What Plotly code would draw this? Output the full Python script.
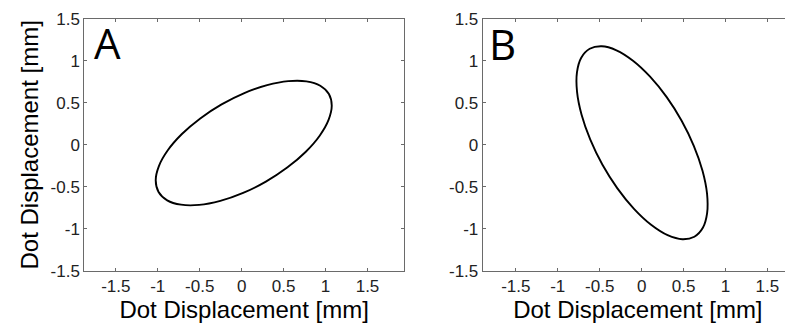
import plotly.graph_objects as go

# Ellipse A, mm
ax_x = [1.040, 0.937, 0.772, 0.556, 0.304, 0.032, -0.239, -0.493, -0.712, -0.880,
        -0.986, -1.024, -0.990, -0.887, -0.722, -0.506, -0.254, 0.018, 0.289, 0.543,
        0.762, 0.930, 1.036, 1.074, 1.040]
ax_y = [0.606, 0.705, 0.757, 0.760, 0.712, 0.617, 0.482, 0.315, 0.129, -0.065,
        -0.253, -0.423, -0.562, -0.661, -0.713, -0.716, -0.668, -0.573, -0.438, -0.271,
        -0.085, 0.109, 0.297, 0.467, 0.606]

# Ellipse B, mm
bx_x = [0.629, 0.730, 0.781, 0.780, 0.726, 0.622, 0.477, 0.299, 0.101, -0.103,
        -0.300, -0.476, -0.619, -0.720, -0.771, -0.770, -0.716, -0.612, -0.467, -0.289,
        -0.091, 0.113, 0.310, 0.486, 0.629]
bx_y = [-1.095, -0.989, -0.814, -0.581, -0.308, -0.011, 0.288, 0.569, 0.813, 1.003,
        1.127, 1.175, 1.145, 1.039, 0.864, 0.631, 0.358, 0.061, -0.238, -0.519,
        -0.763, -0.953, -1.077, -1.125, -1.095]

tick_vals = [-1.5, -1, -0.5, 0, 0.5, 1, 1.5]
tick_text = ["-1.5", "-1", "-0.5", "0", "0.5", "1", "1.5"]
axis_title = "Dot Displacement [mm]"
panel_labels = ["A", "B"]

# The page body keeps an 8px margin, so the figure is drawn 8px in from the window corner.
OFF = 8
W, H = 793 - OFF, 329 - OFF
FONT = "Liberation Sans, Arial, Helvetica, sans-serif"
FRAME = "#6a6a6a"

def px_x(p):
    return (p - OFF) / W

def px_y(p):
    return (H - (p - OFF)) / H

fig = go.Figure()
fig.add_trace(go.Scatter(x=ax_x, y=ax_y, mode="lines", line=dict(color="black", width=1.9, shape="spline", smoothing=1.0),
                         xaxis="x", yaxis="y", showlegend=False, hoverinfo="skip"))
fig.add_trace(go.Scatter(x=bx_x, y=bx_y, mode="lines", line=dict(color="black", width=1.9, shape="spline", smoothing=1.0),
                         xaxis="x2", yaxis="y2", showlegend=False, hoverinfo="skip"))

ydom = [px_y(270.7), px_y(19)]

common = dict(tickmode="array", tickvals=tick_vals, ticktext=tick_text, ticks="inside", ticklen=3,
              tickcolor=FRAME, showline=True, linecolor=FRAME, linewidth=1, showgrid=False, zeroline=False,
              tickfont=dict(family=FONT, size=17, color="#222222"), fixedrange=True, automargin=False)

title_font = dict(family=FONT, size=24, color="black")

fig.update_layout(
    width=W, height=H, margin=dict(l=0, r=0, t=0, b=0, autoexpand=False),
    paper_bgcolor="white", plot_bgcolor="white",
    xaxis=dict(domain=[px_x(84.3), px_x(404)], range=[-1.875, 1.935], mirror="allticks",
               title=dict(text=axis_title, font=title_font, standoff=0),
               anchor="y", **common),
    yaxis=dict(domain=ydom, range=[-1.5, 1.5], mirror="allticks",
               title=dict(text=axis_title, font=title_font, standoff=5),
               anchor="x", **common),
    xaxis2=dict(domain=[px_x(482.7), 1.0], range=[-1.895, 1.805], mirror="allticks",
                title=dict(text=axis_title, font=title_font, standoff=0),
                anchor="y2", **common),
    yaxis2=dict(domain=ydom, range=[-1.5, 1.5], mirror=False, anchor="x2", **common),
)

fig.add_annotation(text=panel_labels[0], xref="paper", yref="paper", x=px_x(92), y=px_y(42.5),
                   xanchor="left", yanchor="middle", showarrow=False,
                   font=dict(family="Open Sans, sans-serif", size=42, color="black"))
fig.add_annotation(text=panel_labels[1], xref="paper", yref="paper", x=px_x(487), y=px_y(43),
                   xanchor="left", yanchor="middle", showarrow=False,
                   font=dict(family="Open Sans, sans-serif", size=42, color="black"))

fig.write_html("out.html")
